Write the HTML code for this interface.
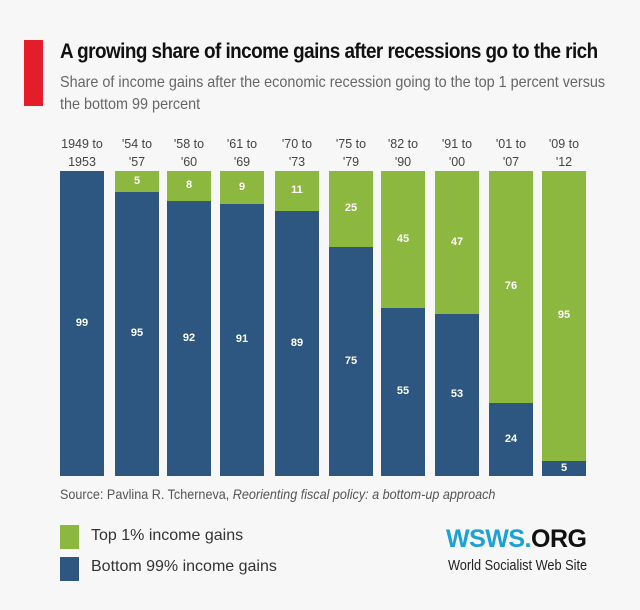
<!DOCTYPE html>
<html><head><style>
body{margin:0;width:640px;height:610px;background:#f8f7f8;font-family:"Liberation Sans",sans-serif;position:relative;overflow:hidden}
.a{position:absolute}
.t{left:60px;top:40px;font-size:21px;font-weight:bold;color:#111;letter-spacing:-0.6px;transform:scaleX(0.9);transform-origin:left;white-space:nowrap}
.s{left:60px;top:72px;font-size:16px;color:#666;line-height:22px;transform:scaleX(0.9);transform-origin:left;width:680px}
.lab{font-size:12.5px;color:#444;text-align:center;line-height:18px;top:135px;width:60px}
.g{background:#8db83f}.b{background:#2d5680}
.v{color:#fff;font-size:11px;font-weight:bold;text-align:center;position:absolute;width:100%}
</style></head><body>
<div class="a" style="left:24px;top:40px;width:19px;height:66px;background:#e31d2a"></div>
<div class="a t">A growing share of income gains after recessions go to the rich</div>
<div class="a s">Share of income gains after the economic recession going to the top 1 percent versus<br>the bottom 99 percent</div>
<div id="c"></div>
<div class="a" style="left:60px;top:486px;font-size:14px;color:#555;transform:scaleX(0.9);transform-origin:left;white-space:nowrap">Source: Pavlina R. Tcherneva, <i>Reorienting fiscal policy: a bottom-up approach</i></div>
<div class="a g" style="left:60px;top:525px;width:19px;height:24px"></div>
<div class="a b" style="left:60px;top:557px;width:19px;height:24px"></div>
<div class="a" style="left:91px;top:527px;font-size:16px;color:#333">Top 1% income gains</div>
<div class="a" style="left:91px;top:558px;font-size:16px;color:#333">Bottom 99% income gains</div>
<div class="a" style="left:446px;top:525px;font-size:25px;font-weight:bold;letter-spacing:-0.5px"><span style="color:#1ba1d6">WSWS.</span><span style="color:#111">ORG</span></div>
<div class="a" style="left:448px;top:557px;font-size:15px;color:#222;transform:scaleX(0.85);transform-origin:left;white-space:nowrap">World Socialist Web Site</div>
<script>
var L=[60,115,167,220,275,329,381,435,489,542],W=44;
var B=[99,95,92,91,89,75,55,53,24,5];
var lab=[["1949 to","1953"],["'54 to","'57"],["'58 to","'60"],["'61 to","'69"],["'70 to","'73"],["'75 to","'79"],["'82 to","'90"],["'91 to","'00"],["'01 to","'07"],["'09 to","'12"]];
var h="",yt=171,yb=476,H=yb-yt;
for(var i=0;i<10;i++){
var x=L[i],bv=B[i],gv=100-bv,bh=Math.round(H*bv/100)+(i==0?3:0)-(i>0&&i<5?6:0);
var bt=yb-bh;
h+='<div class="a lab" style="left:'+(x+W/2-30)+'px">'+lab[i][0]+'<br>'+lab[i][1]+'</div>';
if(i>0){h+='<div class="a g" style="left:'+x+'px;top:'+yt+'px;width:'+W+'px;height:'+(bt-yt)+'px"><div class="v" style="top:'+((bt-yt)/2-7)+'px">'+gv+'</div></div>';}
h+='<div class="a b" style="left:'+x+'px;top:'+bt+'px;width:'+W+'px;height:'+bh+'px"><div class="v" style="top:'+(bh/2-7)+'px">'+bv+'</div></div>';
}
document.getElementById("c").innerHTML=h;
</script>
</body></html>
